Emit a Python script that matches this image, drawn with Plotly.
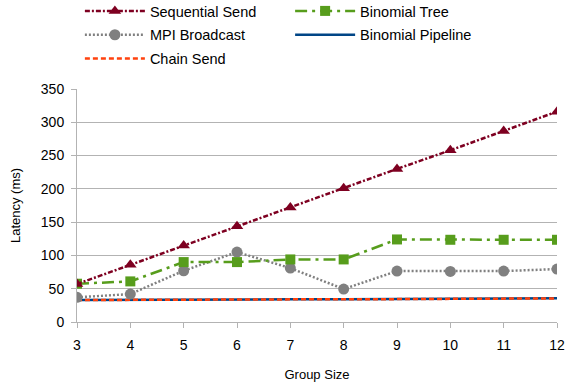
import plotly.graph_objects as go

group_size = [3, 4, 5, 6, 7, 8, 9, 10, 11, 12]
sequential_send = [57, 86, 115, 144, 172, 201, 230, 258, 287, 316]
mpi_broadcast = [37, 42, 77, 105, 81, 49.5, 76.5, 76, 76.5, 79.5]
binomial_tree = [57.5, 61, 90, 90, 94, 94, 124, 123.5, 123.5, 123.5]
binomial_pipeline = [33, 33.5, 34, 34, 34, 34, 34.5, 35, 35, 35.5]
chain_send = [33, 33.5, 34, 34, 34, 34, 34.5, 35, 35, 35.5]

fig = go.Figure()
fig.add_trace(go.Scatter(x=group_size, y=binomial_pipeline, name="Binomial Pipeline", mode="lines",
                         line=dict(color="#004586", width=2.5), legend="legend2", legendgroup="bp",
                         legendrank=2))
fig.add_trace(go.Scatter(x=group_size, y=chain_send, name="Chain Send", mode="lines",
                         line=dict(color="#ff420e", width=2.5, dash="5px,3px"), legend="legend",
                         legendgroup="cs", legendrank=3))
fig.add_trace(go.Scatter(x=group_size, y=mpi_broadcast, name="MPI Broadcast", mode="lines+markers",
                         line=dict(color="#808080", width=2.5, dash="2px,2px"),
                         marker=dict(symbol="circle", size=11, color="#808080"), legend="legend",
                         legendgroup="mpi", legendrank=2))
fig.add_trace(go.Scatter(x=group_size, y=binomial_tree, name="Binomial Tree", mode="lines+markers",
                         line=dict(color="#579d1c", width=2.5, dash="12px,5px,3px,5px"),
                         marker=dict(symbol="square", size=10, color="#579d1c"), legend="legend2",
                         legendgroup="bt", legendrank=1))
fig.add_trace(go.Scatter(x=group_size, y=sequential_send, name="Sequential Send", mode="lines+markers",
                         line=dict(color="#7e0021", width=2.5, dash="5px,2px,2px,2px"),
                         marker=dict(symbol="triangle-up", size=11, color="#7e0021"), legend="legend",
                         legendgroup="ss", legendrank=1))

font = dict(family="Liberation Sans, Arial, sans-serif", size=14, color="#000000")
fig.update_layout(
    width=565, height=388,
    margin=dict(l=77, r=8, t=89, b=66, autoexpand=False),
    plot_bgcolor="white", paper_bgcolor="white",
    font=font,
    legend=dict(x=0.006, y=1.4035, xref="paper", yref="paper", xanchor="left", yanchor="top",
                traceorder="grouped", font=dict(size=14.5), bgcolor="rgba(0,0,0,0)",
                tracegroupgap=2, itemwidth=60),
    legend2=dict(x=0.444, y=1.4035, xref="paper", yref="paper", xanchor="left", yanchor="top",
                 traceorder="grouped", font=dict(size=14.5), bgcolor="rgba(0,0,0,0)",
                 tracegroupgap=2, itemwidth=60),
    xaxis=dict(range=[3, 12], tickvals=group_size, showgrid=False, showline=True,
               linecolor="#b3b3b3", ticks="outside", tickcolor="#b3b3b3", ticklen=5,
               ticklabelstandoff=5,
               title=dict(text="Group Size", font=dict(size=13), standoff=18),
               tickfont=dict(size=14), zeroline=False),
    yaxis=dict(range=[0, 350], dtick=50, showgrid=True, gridcolor="#b3b3b3", showline=True,
               linecolor="#b3b3b3", ticks="outside", tickcolor="#b3b3b3", ticklen=5,
               ticklabelstandoff=4,
               title=dict(text="Latency (ms)", font=dict(size=13), standoff=17),
               tickfont=dict(size=14), zeroline=False),
)
fig.write_html("out.html", config={"displayModeBar": False},
               post_script="document.body.style.margin='0';")
